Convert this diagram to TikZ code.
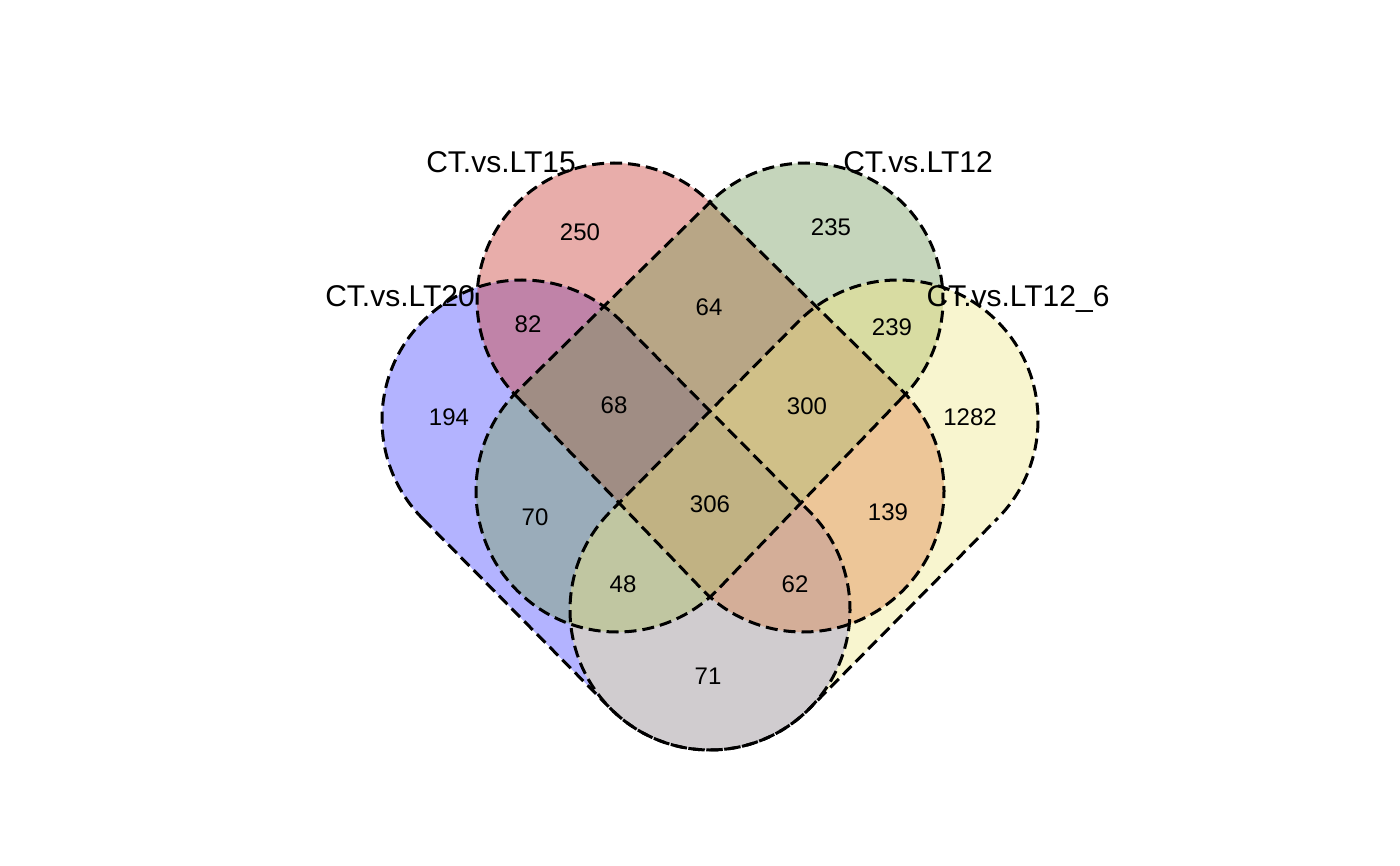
\documentclass[tikz,border=0pt]{standalone}
\usepackage{fontspec}
\setmainfont{Liberation Sans}
\usetikzlibrary{calc}
\definecolor{cR}{HTML}{E8ADAA}
\definecolor{cG}{HTML}{C5D5BB}
\definecolor{cB}{HTML}{B3B3FF}
\definecolor{cY}{HTML}{F8F5CF}
\definecolor{cRB}{HTML}{C083A8}
\definecolor{cRG}{HTML}{B8A686}
\definecolor{cGY}{HTML}{D8DCA2}
\definecolor{cBG}{HTML}{9AACBA}
\definecolor{cRY}{HTML}{EDC698}
\definecolor{cBY}{HTML}{D0CCCF}
\definecolor{cRGB}{HTML}{A08D84}
\definecolor{cRGY}{HTML}{D0C088}
\definecolor{cBGY}{HTML}{C0C6A1}
\definecolor{cRBY}{HTML}{D4AE98}
\definecolor{cRGBY}{HTML}{C1B283}
\tikzset{
  pR/.style={insert path={($(614,300)+(135:137)$) -- ($(803,491)+(135:141)$) arc[start angle=135,end angle=-45,radius=141] -- ($(614,300)+(-45:137)$) arc[start angle=-45,end angle=-225,radius=137] -- cycle}},
  pB/.style={insert path={($(522,420)+(135:140)$) -- ($(710,610)+(135:140)$) arc[start angle=135,end angle=-45,radius=140] -- ($(522,420)+(-45:140)$) arc[start angle=-45,end angle=-225,radius=140] -- cycle}},
  pG/.style={insert path={($(806,300)+(45:137)$) -- ($(617,491)+(45:141)$) arc[start angle=45,end angle=225,radius=141] -- ($(806,300)+(225:137)$) arc[start angle=225,end angle=405,radius=137] -- cycle}},
  pY/.style={insert path={($(898,420)+(45:140)$) -- ($(710,610)+(45:140)$) arc[start angle=45,end angle=225,radius=140] -- ($(898,420)+(225:140)$) arc[start angle=225,end angle=405,radius=140] -- cycle}},
  border/.style={draw=black,line width=3pt,dash pattern=on 12pt off 6pt},
  num/.style={font=\fontsize{24}{28}\selectfont,inner sep=0pt},
  lab/.style={font=\fontsize{30}{35}\selectfont,inner sep=0pt,anchor=base}
}
\begin{document}
\begin{tikzpicture}[x=1pt,y=-1pt]
\useasboundingbox (0,0) rectangle (1400,866);
% single sets
\fill[cR,pR]; \fill[cG,pG]; \fill[cB,pB]; \fill[cY,pY];
% pairs
\begin{scope}\path[clip,pR]; \fill[cRG,pG]; \end{scope}
\begin{scope}\path[clip,pR]; \fill[cRB,pB]; \end{scope}
\begin{scope}\path[clip,pR]; \fill[cRY,pY]; \end{scope}
\begin{scope}\path[clip,pG]; \fill[cBG,pB]; \end{scope}
\begin{scope}\path[clip,pG]; \fill[cGY,pY]; \end{scope}
\begin{scope}\path[clip,pB]; \fill[cBY,pY]; \end{scope}
% triples
\begin{scope}\path[clip,pR]; \path[clip,pG]; \fill[cRGB,pB]; \end{scope}
\begin{scope}\path[clip,pR]; \path[clip,pG]; \fill[cRGY,pY]; \end{scope}
\begin{scope}\path[clip,pB]; \path[clip,pG]; \fill[cBGY,pY]; \end{scope}
\begin{scope}\path[clip,pR]; \path[clip,pB]; \fill[cRBY,pY]; \end{scope}
% all four
\begin{scope}\path[clip,pR]; \path[clip,pG]; \path[clip,pB]; \fill[cRGBY,pY]; \end{scope}
% borders
\draw[border,pB]; \draw[border,pR]; \draw[border,pG]; \draw[border,pY,dash phase=9pt];
% counts
\node[num] (n250) at (580,232) {250};
\node[num] (n235) at (831,227) {235};
\node[num] (n82) at (528,324) {82};
\node[num] (n64) at (709,307) {64};
\node[num] (n239) at (892,327) {239};
\node[num] (n194) at (449,417) {194};
\node[num] (n68) at (614,405) {68};
\node[num] (n300) at (807,406) {300};
\node[num] (n1282) at (970,417) {1282};
\node[num] (n70) at (535,517) {70};
\node[num] (n306) at (710,504) {306};
\node[num] (n139) at (888,512) {139};
\node[num] (n48) at (623,584) {48};
\node[num] (n62) at (795,584) {62};
\node[num] (n71) at (708,676) {71};
% set labels
\node[lab] (lLT15) at (501,173) {CT.vs.LT15};
\node[lab] (lLT12) at (918,173) {CT.vs.LT12};
\node[lab] (lLT20) at (400,307) {CT.vs.LT20};
\node[lab] (lLT126) at (1018,307) {CT.vs.LT12\_6};
\end{tikzpicture}
\end{document}
